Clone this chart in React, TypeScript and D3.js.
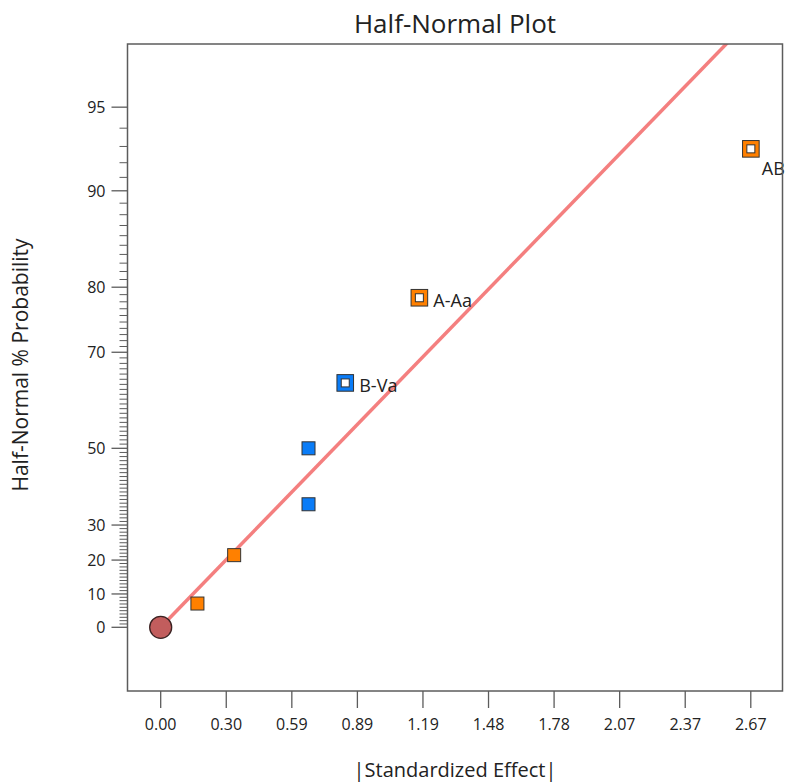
import * as d3 from 'd3';

// half-normal plot data, sorted by |effect|
const effects = [0.166, 0.332, 0.668, 0.668, 0.834, 1.169, 2.667];
const probabilities = [7.14, 21.43, 35.71, 50, 64.29, 78.57, 92.86];
const signs = ['pos', 'pos', 'neg', 'neg', 'neg', 'pos', 'pos'];
const termLabels = ['', '', '', '', 'B-Va', 'A-Aa', 'AB'];

const xTickValues = [0, 0.2963, 0.5926, 0.8889, 1.1852, 1.4815, 1.7778, 2.0741, 2.3704, 2.6667];
const xTickLabels = ['0.00', '0.30', '0.59', '0.89', '1.19', '1.48', '1.78', '2.07', '2.37', '2.67'];
const yMajorTicks = [0, 10, 20, 30, 50, 70, 80, 90, 95];
const fitSlope = 0.86; // z per unit effect

const width = 785;
const height = 783;
const left = 127.5;
const right = 782.5;
const top = 44;
const bottom = 691;

const FONT = '"Open Sans", "Noto Sans", sans-serif';
const axisColor = '#5c5c5c';
const colors = { pos: '#ff8000', neg: '#0a7cf7' };

// inverse normal CDF (Acklam)
function normInv(p) {
  const a = [-39.69683028665376, 220.9460984245205, -275.9285104469687, 138.357751867269, -30.66479806614716, 2.506628277459239];
  const b = [-54.47609879822406, 161.5858368580409, -155.6989798598866, 66.80131188771972, -13.28068155211918];
  const c = [-0.007784894002430293, -0.3223964580411365, -2.400758277161838, -2.549732539343734, 4.374664141464968, 2.938163982698783];
  const d = [0.007784695709041462, 0.3224671290700398, 2.445134137142996, 3.754408661907416];
  const pl = 0.02425;
  if (p < pl) {
    const q = Math.sqrt(-2 * Math.log(p));
    return (((((c[0] * q + c[1]) * q + c[2]) * q + c[3]) * q + c[4]) * q + c[5]) / ((((d[0] * q + d[1]) * q + d[2]) * q + d[3]) * q + 1);
  }
  if (p > 1 - pl) {
    const q = Math.sqrt(-2 * Math.log(1 - p));
    return -(((((c[0] * q + c[1]) * q + c[2]) * q + c[3]) * q + c[4]) * q + c[5]) / ((((d[0] * q + d[1]) * q + d[2]) * q + d[3]) * q + 1);
  }
  const q = p - 0.5;
  const r = q * q;
  return ((((((a[0] * r + a[1]) * r + a[2]) * r + a[3]) * r + a[4]) * r + a[5]) * q) / (((((b[0] * r + b[1]) * r + b[2]) * r + b[3]) * r + b[4]) * r + 1);
}

const halfZ = (pct) => (pct <= 0 ? 0 : normInv(0.5 + pct / 200));

export default function App() {
  const x = d3.scaleLinear().domain([-0.15, 2.81]).range([left, right]);
  const z = d3.scaleLinear().domain([-0.24, 2.198]).range([bottom, top]);
  const y = (pct) => z(halfZ(pct));

  const minorTicks = d3.range(1, 95).filter((v) => !yMajorTicks.includes(v));

  const fitLine = d3
    .line()
    .x((d) => x(d))
    .y((d) => z(d * fitSlope));

  return (
    <svg width={width} height={height} style={{ position: 'absolute', left: 0, top: 0, background: '#fff' }} fontFamily={FONT}>
      <defs>
        <clipPath id="plot-clip">
          <rect x={left} y={top} width={right - left} height={bottom - top} />
        </clipPath>
      </defs>

      <text x={(left + right) / 2} y={33} textAnchor="middle" fontSize={26} fill="#222">
        Half-Normal Plot
      </text>

      {/* fitted line */}
      <path d={fitLine([0, 2.81])} stroke="#f47f7f" strokeWidth={3.5} fill="none" clipPath="url(#plot-clip)" />

      {/* origin marker */}
      <circle cx={x(0)} cy={y(0)} r={11} fill="#c25d5d" stroke="#3a2222" strokeWidth={1.3} />

      {effects.map((e, i) => {
        const cx = x(e);
        const cy = y(probabilities[i]);
        const fill = colors[signs[i]];
        const label = termLabels[i];
        if (!label) {
          return <rect key={i} x={cx - 6.5} y={cy - 6.5} width={13} height={13} fill={fill} stroke="#333" strokeWidth={1} />;
        }
        const nearEdge = cx > right - 50;
        return (
          <g key={i}>
            <rect x={cx - 8.3} y={cy - 8.3} width={16.6} height={16.6} fill={fill} stroke="#333" strokeWidth={1} />
            <rect x={cx - 4} y={cy - 4} width={8} height={8} fill="#fff" stroke="#333" strokeWidth={1} />
            <text
              x={nearEdge ? cx + 11 : cx + 14}
              y={nearEdge ? cy + 26 : cy + 9}
              fontSize={18}
              fill="#222"
            >
              {label}
            </text>
          </g>
        );
      })}

      {/* frame */}
      <rect x={left} y={top} width={right - left} height={bottom - top} fill="none" stroke={axisColor} strokeWidth={1.5} />

      {/* y axis ticks */}
      {minorTicks.map((v) => (
        <line key={'m' + v} x1={left - 8} x2={left} y1={y(v)} y2={y(v)} stroke={axisColor} strokeWidth={1} />
      ))}
      {yMajorTicks.map((v) => (
        <g key={'y' + v}>
          <line x1={left - 16} x2={left} y1={y(v)} y2={y(v)} stroke={axisColor} strokeWidth={1.3} />
          <text x={left - 22} y={y(v)} dy="0.36em" textAnchor="end" fontSize={16} fill="#222">
            {v}
          </text>
        </g>
      ))}

      {/* x axis ticks */}
      {xTickValues.map((v, i) => (
        <g key={'x' + i}>
          <line x1={x(v)} x2={x(v)} y1={bottom} y2={bottom + 17} stroke={axisColor} strokeWidth={1.3} />
          <text x={x(v)} y={730} textAnchor="middle" fontSize={16} fill="#222">
            {xTickLabels[i]}
          </text>
        </g>
      ))}

      <text x={(left + right) / 2} y={777} textAnchor="middle" fontSize={20} fill="#222">
        |Standardized Effect|
      </text>
      <text transform={`translate(28, 365) rotate(-90)`} textAnchor="middle" fontSize={21} fill="#222">
        Half-Normal % Probability
      </text>
    </svg>
  );
}
